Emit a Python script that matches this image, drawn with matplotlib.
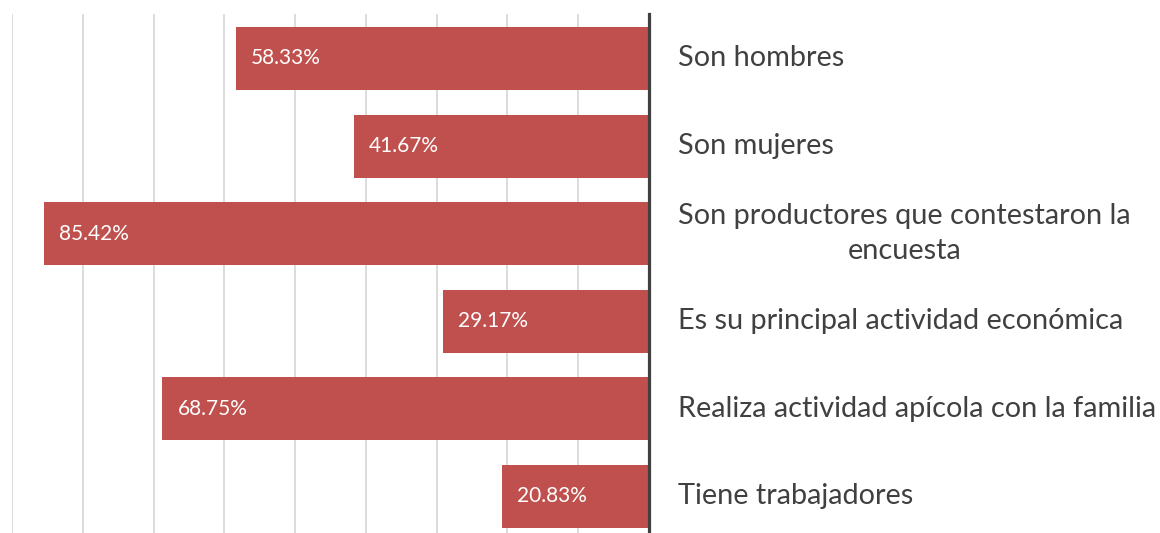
import matplotlib
matplotlib.use("Agg")
import matplotlib.pyplot as plt

# datos
categorias = ["Son hombres", "Son mujeres",
              "Son productores que contestaron la\nencuesta",
              "Es su principal actividad económica",
              "Realiza actividad apícola con la familia",
              "Tiene trabajadores"]
porcentajes = [58.33, 41.67, 85.42, 29.17, 68.75, 20.83]
etiquetas = ["58.33%", "41.67%", "85.42%", "29.17%", "68.75%", "20.83%"]

plt.rcParams['font.family'] = ['Lato', 'DejaVu Sans']

fig = plt.figure(figsize=(11.6, 5.33), dpi=100)
W, H = 1160, 533
ax = fig.add_axes([12 / W, 0, (649 - 12) / W, (533 - 14) / H])

pos = list(range(len(categorias)))
ax.barh(pos, porcentajes, height=0.72, color="#C0504D", zorder=2)

ax.set_xlim(90, 0)
ax.set_ylim(5.417, -0.508)
ax.set_xticks(range(0, 91, 10))
ax.grid(axis="x", color="#d9d9d9", linewidth=1.3, zorder=0)
ax.tick_params(left=False, bottom=False, labelbottom=False, labelleft=False)
for s in ["top", "bottom", "left"]:
    ax.spines[s].set_visible(False)
ax.spines["right"].set_color("#404040")
ax.spines["right"].set_linewidth(2.3)
ax.spines["right"].set_zorder(3)

for y, v, t in zip(pos, porcentajes, etiquetas):
    ax.annotate(t, (v, y), xytext=(15, 0), textcoords="offset pixels",
                ha="left", va="center", color="white", fontsize=15)

for y, c in zip(pos, categorias):
    ax.annotate(c, (0, y), xytext=(29, 0), textcoords="offset pixels",
                ha="left", va="center", multialignment="center",
                color="#404040", fontsize=20.8, linespacing=1.45,
                annotation_clip=False)

fig.savefig("out.png", dpi=100)
